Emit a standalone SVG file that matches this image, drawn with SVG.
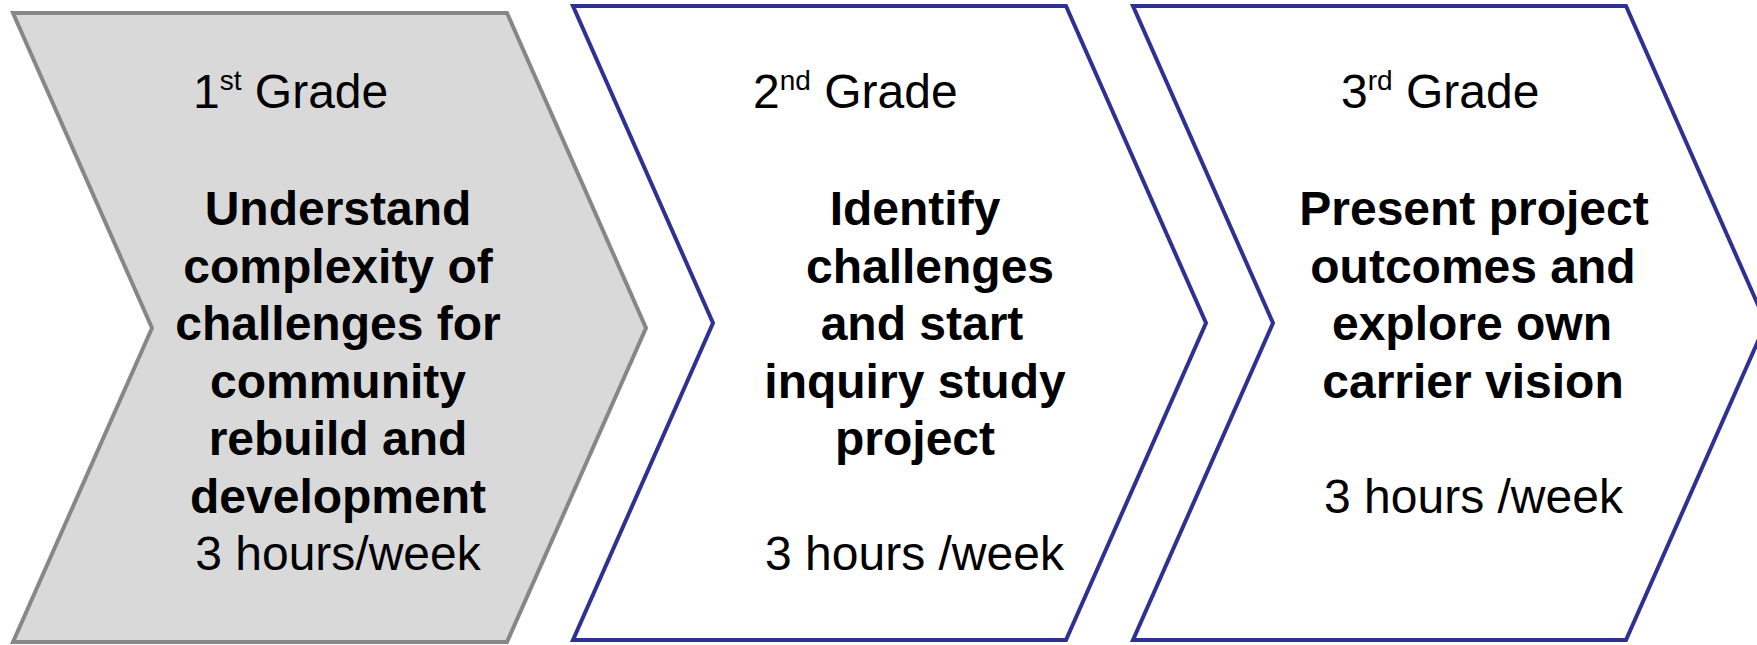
<svg xmlns="http://www.w3.org/2000/svg" width="1757" height="645" viewBox="0 0 1757 645">
<style>
.gray{fill:#d9d9d9;stroke:#878787;stroke-width:4;stroke-linejoin:miter}
.blue{fill:#ffffff;stroke:#2e3092;stroke-width:4;stroke-linejoin:miter}
text{font-family:"Liberation Sans",Arial,sans-serif;font-size:48px;fill:#000}
.b{font-weight:bold;text-anchor:middle}
.m{text-anchor:middle}
</style>
<rect width="1757" height="645" fill="#ffffff"/>
<g id="grade1">
<path class="gray" d="M13,13 L507,13 L646,328 L507,642 L13,642 L152,328 Z"/>
<text x="193" y="108">1<tspan font-size="28" dy="-18">st</tspan><tspan dy="18"> Grade</tspan></text>
<text class="b" x="338" y="225">Understand</text>
<text class="b" x="338" y="282.6">complexity of</text>
<text class="b" x="338" y="340.2">challenges for</text>
<text class="b" x="338" y="397.8">community</text>
<text class="b" x="338" y="455.4">rebuild and</text>
<text class="b" x="338" y="513">development</text>
<text class="m" x="338" y="570">3 hours/week</text>
</g>
<g id="grade2">
<path class="blue" d="M573,6 L1066,6 L1206,323 L1066,640 L573,640 L713,323 Z"/>
<text x="753" y="108">2<tspan font-size="28" dy="-18">nd</tspan><tspan dy="18"> Grade</tspan></text>
<text class="b" x="915" y="225">Identify</text>
<text class="b" x="930" y="282.6">challenges</text>
<text class="b" x="922" y="340.2">and start</text>
<text class="b" x="915" y="397.8">inquiry study</text>
<text class="b" x="915" y="455.4">project</text>
<text class="m" x="914.5" y="570">3 hours /week</text>
</g>
<g id="grade3">
<path class="blue" d="M1133,6 L1626,6 L1766,323 L1626,640 L1133,640 L1273,323 Z"/>
<text x="1341" y="108">3<tspan font-size="28" dy="-18">rd</tspan><tspan dy="18"> Grade</tspan></text>
<text class="b" x="1474" y="225">Present project</text>
<text class="b" x="1473" y="282.6">outcomes and</text>
<text class="b" x="1472" y="340.2">explore own</text>
<text class="b" x="1473" y="397.8">carrier vision</text>
<text class="m" x="1473.5" y="513">3 hours /week</text>
</g>
<g id="connectors"/>
</svg>
